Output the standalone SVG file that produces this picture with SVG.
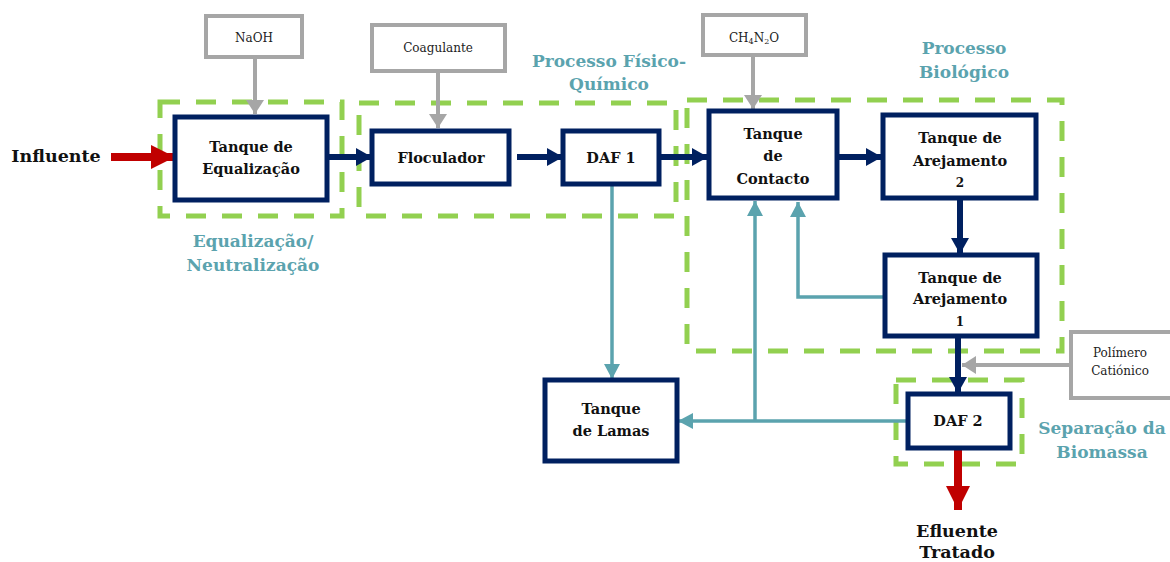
<svg xmlns="http://www.w3.org/2000/svg" width="1170" height="562" viewBox="0 0 1170 562">
  <style>
    .tank { fill: #ffffff; stroke: #002060; stroke-width: 5; }
    .dose { fill: #ffffff; stroke: #a6a6a6; stroke-width: 4; }
    .zone { fill: none; stroke: #92d050; stroke-width: 5; stroke-dasharray: 20 16; }
    .t { font-family: "DejaVu Serif", "Liberation Serif", serif; font-weight: bold; font-size: 14.5px; fill: #111111; text-anchor: middle; }
    .small { font-size: 12px; }
    .d { font-family: "DejaVu Serif", "Liberation Serif", serif; font-size: 12px; fill: #222222; text-anchor: middle; }
    .zl { font-family: "DejaVu Serif", "Liberation Serif", serif; font-weight: bold; font-size: 17px; fill: #5ba3ae; text-anchor: middle; }
    .io { font-family: "DejaVu Serif", "Liberation Serif", serif; font-weight: bold; font-size: 17.5px; fill: #111111; text-anchor: middle; }
    .navy { fill: none; stroke: #002060; stroke-width: 6; }
    .red { fill: none; stroke: #c00000; stroke-width: 8; }
    .grey { fill: none; stroke: #a6a6a6; stroke-width: 4; }
    .teal { fill: none; stroke: #5ba3ae; stroke-width: 3.5; }
  </style>
  <defs>
    <marker id="hNavy" markerUnits="userSpaceOnUse" markerWidth="16" markerHeight="18" refX="16" refY="9" orient="auto">
      <path d="M0,0 L16,9 L0,18 z" fill="#002060"/>
    </marker>
    <marker id="hRed" markerUnits="userSpaceOnUse" markerWidth="24" markerHeight="24" refX="24" refY="12" orient="auto">
      <path d="M0,0 L24,12 L0,24 z" fill="#c00000"/>
    </marker>
    <marker id="hGrey" markerUnits="userSpaceOnUse" markerWidth="14" markerHeight="18" refX="14" refY="9" orient="auto">
      <path d="M0,0 L14,9 L0,18 z" fill="#a6a6a6"/>
    </marker>
    <marker id="hTeal" markerUnits="userSpaceOnUse" markerWidth="15" markerHeight="16" refX="15" refY="8" orient="auto">
      <path d="M0,0 L15,8 L0,16 z" fill="#5ba3ae"/>
    </marker>
  </defs>

  <!-- process zones -->
  <g id="zones">
    <rect class="zone" x="160" y="102" width="182" height="114"/>
    <rect class="zone" x="359" y="103" width="317" height="113"/>
    <rect class="zone" x="687" y="100" width="375" height="251"/>
    <rect class="zone" x="896" y="380" width="126" height="84"/>
    <text class="zl" x="253" y="247">Equalização/</text>
    <text class="zl" x="253" y="271">Neutralização</text>
    <text class="zl" x="609" y="67">Processo Físico-</text>
    <text class="zl" x="609" y="90">Químico</text>
    <text class="zl" x="964" y="54">Processo</text>
    <text class="zl" x="964" y="78">Biológico</text>
    <text class="zl" x="1102" y="434">Separação da</text>
    <text class="zl" x="1102" y="458">Biomassa</text>
  </g>

  <!-- connectors -->
  <g id="connectors">
    <line class="red" x1="111" y1="157" x2="175" y2="157" marker-end="url(#hRed)"/>
    <line class="navy" x1="328" y1="157" x2="372" y2="157" marker-end="url(#hNavy)"/>
    <line class="navy" x1="517" y1="157" x2="563" y2="157" marker-end="url(#hNavy)"/>
    <line class="navy" x1="660" y1="157" x2="708" y2="157" marker-end="url(#hNavy)"/>
    <line class="navy" x1="838" y1="157" x2="882" y2="157" marker-end="url(#hNavy)"/>
    <line class="navy" x1="960" y1="199" x2="960" y2="254" marker-end="url(#hNavy)"/>
    <line class="navy" x1="958" y1="336" x2="958" y2="393" marker-end="url(#hNavy)"/>
    <line class="red" x1="958" y1="449" x2="958" y2="510" marker-end="url(#hRed)"/>
    <line class="grey" x1="255" y1="58" x2="255" y2="114" marker-end="url(#hGrey)"/>
    <line class="grey" x1="438" y1="72" x2="438" y2="128" marker-end="url(#hGrey)"/>
    <line class="grey" x1="753" y1="56" x2="753" y2="109" marker-end="url(#hGrey)"/>
    <line class="grey" x1="1071" y1="365" x2="962" y2="365" marker-end="url(#hGrey)"/>
    <line class="teal" x1="612" y1="185" x2="612" y2="379" marker-end="url(#hTeal)"/>
    <path class="teal" d="M907,421 H678" marker-end="url(#hTeal)"/>
    <path class="teal" d="M755,421 V201" marker-end="url(#hTeal)"/>
    <path class="teal" d="M884,297 H798 V202" marker-end="url(#hTeal)"/>
  </g>

  <!-- inlet / outlet -->
  <g id="influente"><text class="io" x="56" y="162">Influente</text></g>
  <g id="efluente">
    <text class="io" x="957" y="537">Efluente</text>
    <text class="io" x="957" y="558">Tratado</text>
  </g>

  <!-- dosing -->
  <g id="naoh">
    <rect class="dose" x="206" y="16" width="96" height="41"/>
    <text class="d" x="254" y="42">NaOH</text>
  </g>
  <g id="coagulante">
    <rect class="dose" x="372" y="25" width="133" height="46"/>
    <text class="d" x="438" y="52">Coagulante</text>
  </g>
  <g id="ureia">
    <rect class="dose" x="703" y="15" width="103" height="40"/>
    <text class="d" x="754" y="42">CH<tspan font-size="8" dy="2">4</tspan><tspan dy="-2">N</tspan><tspan font-size="8" dy="2">2</tspan><tspan dy="-2">O</tspan></text>
  </g>
  <g id="polimero">
    <rect class="dose" x="1071" y="332" width="110" height="66"/>
    <text class="d" x="1120" y="357">Polímero</text>
    <text class="d" x="1120" y="375">Catiónico</text>
  </g>

  <!-- tanks -->
  <g id="equalizacao">
    <rect class="tank" x="175" y="117" width="152" height="83"/>
    <text class="t" x="251" y="152">Tanque de</text>
    <text class="t" x="251" y="174">Equalização</text>
  </g>
  <g id="floculador">
    <rect class="tank" x="372" y="131" width="137" height="53"/>
    <text class="t" x="441" y="163">Floculador</text>
  </g>
  <g id="daf1">
    <rect class="tank" x="563" y="131" width="96" height="53"/>
    <text class="t" x="611" y="163">DAF 1</text>
  </g>
  <g id="contacto">
    <rect class="tank" x="709" y="111" width="128" height="87"/>
    <text class="t" x="773" y="139">Tanque</text>
    <text class="t" x="773" y="161">de</text>
    <text class="t" x="773" y="184">Contacto</text>
  </g>
  <g id="arejamento2">
    <rect class="tank" x="883" y="115" width="153" height="83"/>
    <text class="t" x="960" y="143">Tanque de</text>
    <text class="t" x="960" y="166">Arejamento</text>
    <text class="t small" x="960" y="187">2</text>
  </g>
  <g id="arejamento1">
    <rect class="tank" x="885" y="255" width="152" height="81"/>
    <text class="t" x="960" y="283">Tanque de</text>
    <text class="t" x="960" y="304">Arejamento</text>
    <text class="t small" x="960" y="326">1</text>
  </g>
  <g id="lamas">
    <rect class="tank" x="545" y="380" width="132" height="81"/>
    <text class="t" x="611" y="414">Tanque</text>
    <text class="t" x="611" y="436">de Lamas</text>
  </g>
  <g id="daf2">
    <rect class="tank" x="908" y="394" width="102" height="54"/>
    <text class="t" x="958" y="426">DAF 2</text>
  </g>
</svg>
